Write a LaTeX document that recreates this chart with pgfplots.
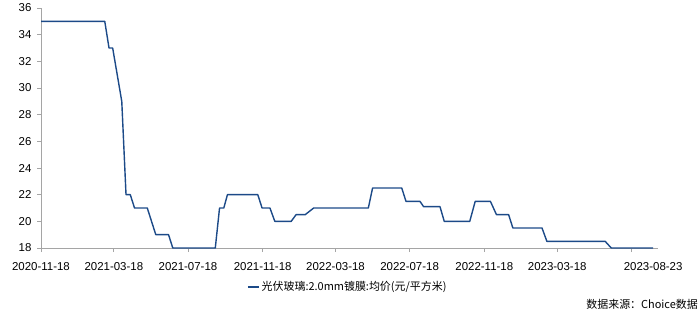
\documentclass[border=0pt]{standalone}
\usepackage{pgfplots}
\pgfplotsset{compat=1.18}
\usepackage{fontspec}
\setmainfont{Liberation Sans}
\newfontfamily\cjk{Noto Sans CJK SC}
\definecolor{linec}{RGB}{28,74,136}
\definecolor{axgray}{RGB}{165,165,165}
\begin{document}
\begin{tikzpicture}[x=1bp,y=1bp]
\useasboundingbox (0,0) rectangle (700,320);
\begin{axis}[
  at={(41bp,72bp)}, anchor=south west,
  scale only axis, width=617bp, height=240bp,
  xmin=0, xmax=1016, ymin=18, ymax=36,
  axis x line*=bottom, axis y line*=left,
  axis line style={axgray, line width=0.8bp},
  tick style={axgray, line width=0.8bp},
  tick align=outside,
  major tick length=4bp,
  ytick={18,20,...,36},
  xtick={0,120,242,365,485,607,730,850,972},
  xticklabels={2020-11-18,2021-03-18,2021-07-18,2021-11-18,2022-03-18,2022-07-18,2022-11-18,2023-03-18,{}},
  extra x ticks={1008},
  extra x tick labels={2023-08-23},
  extra x tick style={major tick length=0pt, xticklabel style={yshift=-4bp}},
  /pgf/number format/assume math mode=true,
  ticklabel style={font=\fontsize{11.5}{13}\selectfont, black},
  xticklabel style={yshift=-7bp},
  yticklabel style={xshift=-2bp},
  clip=false,
  legend style={draw=none, fill=none, at={(axis description cs:0.334,-0.1625)}, anchor=west,
    inner sep=0pt, font=\cjk\fontsize{11}{13}\selectfont},
  legend image code/.code={\draw[#1] (0bp,0bp)--(11bp,0bp);},
]
\addplot[linec, line width=1.4bp, line join=round] coordinates {
(0,35)(105,35)(112,33)(118,33)(133,29)(140,22)(147,22)(154,21)(175,21)(189,19)(210,19)(217,18)(287,18)(294,21)(301,21)(307,22)(357,22)(364,21)(377,21)(385,20)(412,20)(420,20.5)(435,20.5)(449,21)(539,21)(546,22.5)(594,22.5)(601,21.5)(624,21.5)(630,21.1)(657,21.1)(664,20)(706,20)(715,21.5)(740,21.5)(750,20.5)(770,20.5)(777,19.5)(825,19.5)(833,18.5)(929,18.5)(939,18)(1008,18)
};
\addlegendentry{光伏玻璃:2.0mm镀膜:均价(元/平方米)}
\end{axis}
\node[anchor=east, inner sep=0pt, font=\cjk\fontsize{11}{13}\selectfont] at (698,16) {数据来源：Choice数据};
\end{tikzpicture}
\end{document}
